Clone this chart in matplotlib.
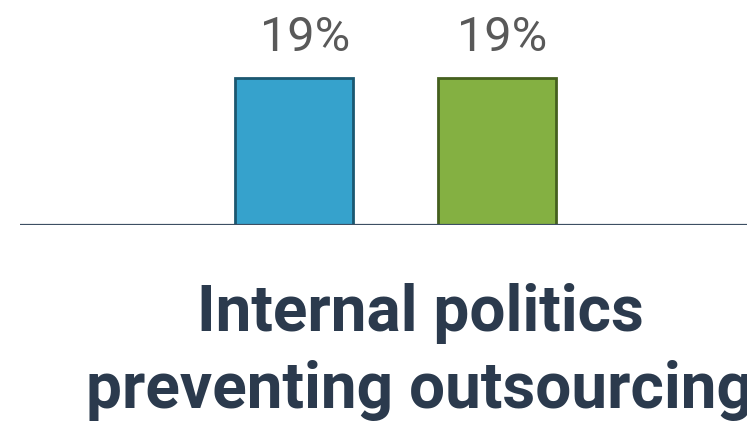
import matplotlib
matplotlib.use("Agg")
import matplotlib.pyplot as plt

# Survey result for one category, two respondent groups
categories = ["Internal politics\npreventing outsourcing"]
series_a = [19]
series_b = [19]
value_labels_a = ["19%"]
value_labels_b = ["19%"]

W, H, DPI = 747, 422, 100
fig = plt.figure(figsize=(W / DPI, H / DPI), dpi=DPI)

# axes spans from the baseline upward; category labels sit below it
base_px = H - 225
ax = fig.add_axes([20 / W, base_px / H, 1 - 20 / W, 193.4 / H])
ax.set_xlim(-1.851, 1.730)
ax.set_ylim(0, 25)

x = list(range(len(categories)))
bw = 0.581
xa = [i - 0.5 for i in x]
xb = [i + 0.5 for i in x]

ba = ax.bar(xa, series_a, width=bw, color="#36a2cc", edgecolor="#1b5770", linewidth=2, zorder=3)
bb = ax.bar(xb, series_b, width=bw, color="#84b042", edgecolor="#45601f", linewidth=2, zorder=3)


def label_bars(bars, labels, dx):
    for rect, lab in zip(bars, labels):
        ax.annotate(lab, (rect.get_x() + rect.get_width() / 2, rect.get_height()),
                    xytext=(dx, 12.5), textcoords="offset points", ha="center", va="bottom",
                    fontsize=35, color="#595959", family="Roboto")


label_bars(ba, value_labels_a, 8)
label_bars(bb, value_labels_b, 3.6)

ax.axhline(0, color="#3d4f63", linewidth=1.6, zorder=4)

for s in ax.spines.values():
    s.set_visible(False)
ax.set_yticks([])
ax.set_xticks([i + 0.119 for i in x])
ax.set_xticklabels(categories, fontsize=46, fontweight="bold", color="#2b3a4d",
                   family="Roboto", linespacing=1.32)
ax.tick_params(axis="x", length=0, pad=42)

fig.savefig("out.png", dpi=DPI)
